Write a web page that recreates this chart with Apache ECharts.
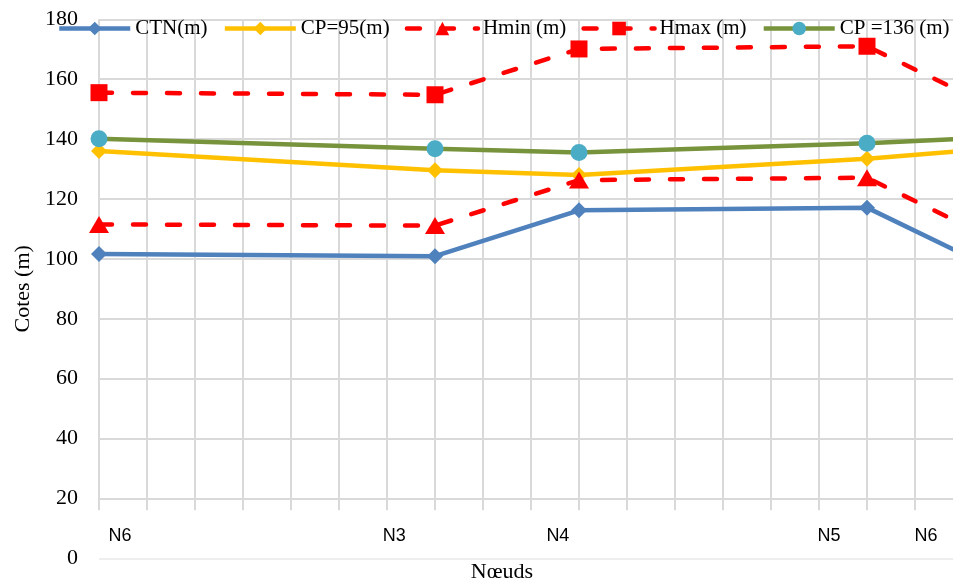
<!DOCTYPE html>
<html>
<head>
<meta charset="utf-8">
<script src="https://cdn.jsdelivr.net/npm/echarts@6/dist/echarts.min.js"></script>
<style>
  html, body { margin: 0; padding: 0; background: #fff; }
  #chart { width: 953px; height: 585px; }
</style>
</head>
<body>
<div id="chart"></div>
<script>
// Position of each node along the route (horizontal axis units)
const routeX = [0, 7, 10, 16, 18];
// Node names shown under the plot and where each one sits on the axis
const nodeNames = ['N6', 'N3', 'N4', 'N5', 'N6'];
const nodeLabelAt = [0.44, 6.15, 9.56, 15.21, 17.23];

// Elevations (m) at each node
const ctn   = [101.6, 100.9, 116.2, 117.1, 101.6];
const cp95  = [136.0, 129.6, 128.0, 133.4, 136.0];
const hmin  = [111.5, 111.1, 126.3, 127.1, 111.5];
const hmax  = [155.5, 154.8, 170.1, 171.0, 155.5];
const cp136 = [140.1, 136.8, 135.5, 138.6, 140.1];

const yTicks = [0, 20, 40, 60, 80, 100, 120, 140, 160, 180];

const pts = vals => routeX.map((x, i) => [x, vals[i]]);
const serif = 'Liberation Serif, Times New Roman, serif';
const gridCol = '#d9d9d9';

const chart = echarts.init(document.getElementById('chart'), null, { renderer: 'canvas' });

const plotBox = { left: 99, top: 19.3, width: 864 };

chart.setOption({
  animation: false,
  backgroundColor: '#ffffff',
  textStyle: { fontFamily: serif },
  legend: {
    left: 57,
    top: 18,
    width: 960,
    padding: 0,
    itemWidth: 71,
    itemHeight: 17,
    itemGap: 15,
    lineStyle: { width: 4.5 },
    textStyle: { fontFamily: serif, fontSize: 21, color: '#000' },
    data: ['CTN(m)', 'CP=95(m)', 'Hmin (m)', 'Hmax (m)', 'CP =136 (m)']
  },
  grid: [
    Object.assign({ height: 539, outerBoundsMode: 'none', containLabel: false }, plotBox),
    Object.assign({ height: 491, outerBoundsMode: 'none', containLabel: false }, plotBox)
  ],
  xAxis: [
    {
      type: 'value', gridIndex: 0, min: 0, max: 18, interval: 1,
      axisLine: { show: false }, axisTick: { show: false },
      axisLabel: { show: false }, splitLine: { show: false },
      name: 'Nœuds', nameLocation: 'middle', nameGap: 3,
      nameTextStyle: { fontFamily: serif, fontSize: 22, color: '#000', padding: [0, 58, 0, 0] }
    },
    {
      type: 'value', gridIndex: 1, min: 0, max: 18, interval: 1,
      axisLine: { show: false }, axisTick: { show: false },
      axisLabel: { show: false },
      splitLine: { show: true, lineStyle: { color: gridCol, width: 2 } }
    },
    {
      type: 'value', gridIndex: 1, min: 0, max: 18, position: 'bottom',
      axisLine: { show: false }, axisTick: { show: false },
      splitLine: { show: false },
      axisLabel: {
        show: true,
        customValues: nodeLabelAt,
        margin: 17,
        fontFamily: 'Liberation Sans, Arial, sans-serif',
        fontSize: 18,
        color: '#000',
        formatter: v => {
          const i = nodeLabelAt.findIndex(p => Math.abs(p - v) < 1e-6);
          return i >= 0 ? nodeNames[i] : '';
        }
      }
    }
  ],
  yAxis: [
    {
      type: 'value', gridIndex: 0, min: 0, max: 180, interval: 20,
      axisLine: { show: false }, axisTick: { show: false },
      axisLabel: {
        margin: 21, fontFamily: serif, fontSize: 22, color: '#000',
        customValues: yTicks
      },
      splitLine: {
        show: true,
        lineStyle: {
          width: 2,
          color: ['#eeeeee', gridCol, gridCol, gridCol, gridCol, gridCol, gridCol, gridCol, gridCol, gridCol]
        }
      },
      name: 'Cotes (m)', nameLocation: 'middle', nameGap: 64, nameRotate: 90,
      nameTextStyle: { fontFamily: serif, fontSize: 22, color: '#000' }
    },
    {
      type: 'value', gridIndex: 1, min: 0, max: 180, show: false,
      splitLine: { show: false }
    }
  ],
  series: [
    {
      name: 'CTN(m)', type: 'line', xAxisIndex: 0, yAxisIndex: 0,
      data: pts(ctn),
      symbol: 'diamond', symbolSize: 16,
      lineStyle: { color: '#4f81bd', width: 4.5 },
      itemStyle: { color: '#4f81bd' }
    },
    {
      name: 'CP=95(m)', type: 'line', xAxisIndex: 0, yAxisIndex: 0,
      data: pts(cp95),
      symbol: 'diamond', symbolSize: 16,
      lineStyle: { color: '#ffc000', width: 4.5 },
      itemStyle: { color: '#ffc000' }
    },
    {
      name: 'Hmin (m)', type: 'line', xAxisIndex: 0, yAxisIndex: 0,
      data: pts(hmin),
      symbol: 'triangle', symbolSize: [20, 17],
      lineStyle: { color: '#ff0000', width: 4.5, type: [13, 21], cap: 'round' },
      itemStyle: { color: '#ff0000' }
    },
    {
      name: 'Hmax (m)', type: 'line', xAxisIndex: 0, yAxisIndex: 0,
      data: pts(hmax),
      symbol: 'rect', symbolSize: 17,
      lineStyle: { color: '#ff0000', width: 4.5, type: [13, 21], cap: 'round' },
      itemStyle: { color: '#ff0000' }
    },
    {
      name: 'CP =136 (m)', type: 'line', xAxisIndex: 0, yAxisIndex: 0,
      data: pts(cp136),
      symbol: 'circle', symbolSize: 17,
      lineStyle: { color: '#77933c', width: 4.5 },
      itemStyle: { color: '#4bacc6' }
    }
  ]
});
</script>
</body>
</html>
